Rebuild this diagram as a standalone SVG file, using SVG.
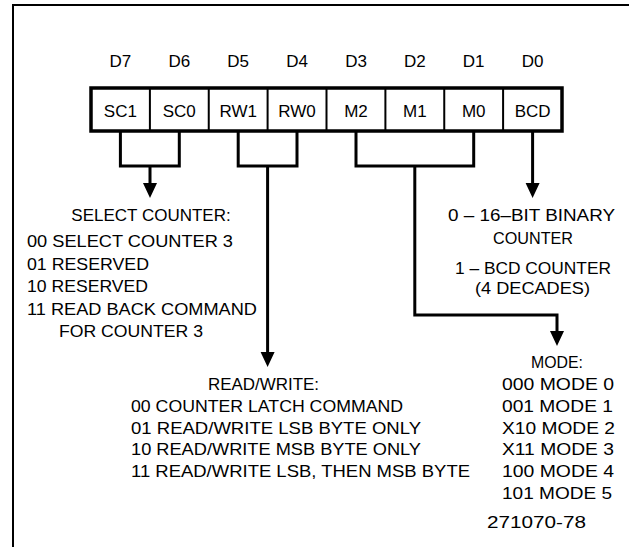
<svg xmlns="http://www.w3.org/2000/svg" width="629" height="547" viewBox="0 0 629 547">
<style>
text{font-family:"Liberation Sans",Arial,sans-serif;font-size:17px;fill:#000}
.h{text-anchor:middle}
.c{text-anchor:middle}
.ln{fill:none;stroke:#000;stroke-width:3;stroke-linejoin:miter}
.ah{fill:#000;stroke:none}
</style>
<rect width="629" height="547" fill="#fff"/>
<g id="frame"><path d="M13,547 V5 H629" fill="none" stroke="#000" stroke-width="2"/></g>
<g id="register">
<rect x="91" y="88" width="471" height="43" fill="#fff" stroke="#000" stroke-width="3.5"/>
<path d="M149.9,88V131M208.75,88V131M267.6,88V131M326.5,88V131M385.4,88V131M444.25,88V131M503.1,88V131" stroke="#000" stroke-width="2"/>
<text class="h" x="120.4" y="66.5">D7</text>
<text class="h" x="179.3" y="66.5">D6</text>
<text class="h" x="238.2" y="66.5">D5</text>
<text class="h" x="297" y="66.5">D4</text>
<text class="h" x="356" y="66.5">D3</text>
<text class="h" x="414.8" y="66.5">D2</text>
<text class="h" x="473.7" y="66.5">D1</text>
<text class="h" x="532.6" y="66.5">D0</text>
<text class="h" x="120.4" y="117">SC1</text>
<text class="h" x="179.3" y="117">SC0</text>
<text class="h" x="238.2" y="117">RW1</text>
<text class="h" x="297" y="117">RW0</text>
<text class="h" x="356" y="117">M2</text>
<text class="h" x="414.8" y="117">M1</text>
<text class="h" x="473.7" y="117">M0</text>
<text class="h" x="532.6" y="117">BCD</text>
</g>
<g id="connectors">
<path class="ln" d="M120.4,131V166H179.3V131M150,166V184"/>
<polygon class="ah" points="143,183 157,183 150,198"/>
<path class="ln" d="M238.2,131V166H297V131M267.6,166V353"/>
<polygon class="ah" points="260.6,352 274.6,352 267.6,367"/>
<path class="ln" d="M356,131V166H473.7V131M414.8,166V315H557V332"/>
<polygon class="ah" points="550,331 564,331 557,346"/>
<path class="ln" d="M532.6,131V184"/>
<polygon class="ah" points="525.6,183 539.6,183 532.6,198"/>
</g>
<g id="select-counter">
<text class="c" x="151" y="220.7">SELECT COUNTER:</text>
<text x="27" y="247" textLength="206" lengthAdjust="spacingAndGlyphs">00 SELECT COUNTER 3</text>
<text x="27" y="269.5" textLength="122" lengthAdjust="spacingAndGlyphs">01 RESERVED</text>
<text x="27" y="292" textLength="121" lengthAdjust="spacingAndGlyphs">10 RESERVED</text>
<text x="27" y="314.5" textLength="230" lengthAdjust="spacingAndGlyphs">11 READ BACK COMMAND</text>
<text x="59" y="337" textLength="144" lengthAdjust="spacingAndGlyphs">FOR COUNTER 3</text>
</g>
<g id="bcd">
<text x="448" y="220.7" textLength="167" lengthAdjust="spacingAndGlyphs">0 – 16–BIT BINARY</text>
<text x="493" y="243.5" textLength="80" lengthAdjust="spacingAndGlyphs">COUNTER</text>
<text x="455" y="273.5" textLength="156" lengthAdjust="spacingAndGlyphs">1 – BCD COUNTER</text>
<text x="475" y="294" textLength="115" lengthAdjust="spacingAndGlyphs">(4 DECADES)</text>
</g>
<g id="read-write">
<text x="208" y="390" textLength="111" lengthAdjust="spacingAndGlyphs">READ/WRITE:</text>
<text x="131" y="412" textLength="272" lengthAdjust="spacingAndGlyphs">00 COUNTER LATCH COMMAND</text>
<text x="131" y="433.5" textLength="290" lengthAdjust="spacingAndGlyphs">01 READ/WRITE LSB BYTE ONLY</text>
<text x="131" y="455" textLength="290" lengthAdjust="spacingAndGlyphs">10 READ/WRITE MSB BYTE ONLY</text>
<text x="131" y="477" textLength="339" lengthAdjust="spacingAndGlyphs">11 READ/WRITE LSB, THEN MSB BYTE</text>
</g>
<g id="mode">
<text x="531" y="368" textLength="52" lengthAdjust="spacingAndGlyphs">MODE:</text>
<text x="502" y="390" textLength="112" lengthAdjust="spacingAndGlyphs">000 MODE 0</text>
<text x="502" y="412" textLength="111" lengthAdjust="spacingAndGlyphs">001 MODE 1</text>
<text x="502" y="433.5" textLength="113" lengthAdjust="spacingAndGlyphs">X10 MODE 2</text>
<text x="502" y="455" textLength="112" lengthAdjust="spacingAndGlyphs">X11 MODE 3</text>
<text x="502" y="477" textLength="112" lengthAdjust="spacingAndGlyphs">100 MODE 4</text>
<text x="502" y="498.5" textLength="110" lengthAdjust="spacingAndGlyphs">101 MODE 5</text>
<text x="487" y="528" textLength="99" lengthAdjust="spacingAndGlyphs">271070-78</text>
</g>
</svg>
